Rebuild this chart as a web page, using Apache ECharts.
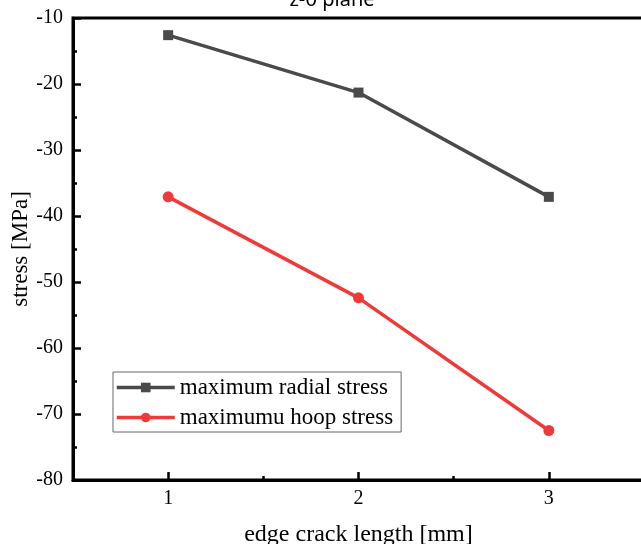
<!DOCTYPE html>
<html>
<head>
<meta charset="utf-8">
<script src="https://cdn.jsdelivr.net/npm/echarts@6/dist/echarts.min.js"></script>
<style>
  html, body { margin: 0; padding: 0; background: #fff; }
  #chart { width: 641px; height: 544px; }
</style>
</head>
<body>
<div id="chart"></div>
<script>
// Crack length (mm) and peak stresses (MPa)
const crackLength = [1, 2, 3];
const radialStress = [-12.6, -21.3, -37.1];
const hoopStress = [-37.1, -52.4, -72.5];
const xMajorTicks = [1, 2, 3];
const xMinorTicks = [1.5, 2.5];

const serif = '"Liberation Serif", "Times New Roman", serif';

const chart = echarts.init(document.getElementById('chart'), null, { renderer: 'canvas' });

chart.setOption({
  backgroundColor: '#fff',
  animation: false,
  title: {
    text: 'z-θ plane',
    left: 327,
    textAlign: 'center',
    top: -15,
    textStyle: { fontFamily: '"Noto Sans", sans-serif', fontSize: 20, fontWeight: 'normal', color: '#000' }
  },
  grid: {
    left: 73, top: 18, right: -3, bottom: 64,
    outerBoundsMode: 'none',
    containLabel: false,
    show: true, borderColor: '#000', borderWidth: 3, backgroundColor: 'transparent'
  },
  legend: {
    orient: 'vertical',
    left: 113, top: 372,
    data: ['maximum radial stress', 'maximumu hoop stress'],
    itemWidth: 58, itemHeight: 12, itemGap: 7,
    padding: [4, 8, 3, 2],
    borderColor: '#666', borderWidth: 1,
    lineStyle: { width: 3.5 },
    textStyle: { fontFamily: serif, fontSize: 23, color: '#000' }
  },
  xAxis: [
    {
      type: 'value', min: 0.5, max: 3.5,
      name: 'edge crack length [mm]', nameLocation: 'middle', nameGap: 43,
      nameMoveOverlap: false,
      nameTextStyle: { fontFamily: serif, fontSize: 24, color: '#000' },
      axisLine: { lineStyle: { color: '#000', width: 3 } },
      axisTick: { inside: true, length: 8, lineStyle: { width: 2.5, color: '#000' }, customValues: xMajorTicks },
      axisLabel: { fontFamily: serif, fontSize: 20, color: '#000', margin: 9, customValues: xMajorTicks },
      splitLine: { show: false }
    },
    {
      type: 'value', min: 0.5, max: 3.5, position: 'bottom',
      axisLine: { show: false },
      axisTick: { inside: true, length: 4, lineStyle: { width: 2.5, color: '#000' }, customValues: xMinorTicks },
      axisLabel: { show: false },
      splitLine: { show: false }
    }
  ],
  yAxis: {
    type: 'value', min: -80, max: -10, interval: 10,
    name: 'stress [MPa]', nameLocation: 'middle', nameGap: 41,
    nameMoveOverlap: false,
    nameTextStyle: { fontFamily: serif, fontSize: 23, color: '#000' },
    axisLine: { show: true, lineStyle: { color: '#000', width: 3 } },
    axisTick: { show: true, inside: true, length: 8, lineStyle: { width: 2.5, color: '#000' } },
    minorTick: { show: true, splitNumber: 2, length: 4, lineStyle: { width: 2.5, color: '#000' } },
    axisLabel: { fontFamily: serif, fontSize: 20, color: '#000', margin: 10 },
    splitLine: { show: false }
  },
  series: [
    {
      name: 'maximum radial stress',
      type: 'line',
      data: crackLength.map((x, i) => [x, radialStress[i]]),
      symbol: 'rect', symbolSize: 10,
      lineStyle: { color: '#4a4a4a', width: 3.5 },
      itemStyle: { color: '#4a4a4a' }
    },
    {
      name: 'maximumu hoop stress',
      type: 'line',
      data: crackLength.map((x, i) => [x, hoopStress[i]]),
      symbol: 'circle', symbolSize: 11,
      lineStyle: { color: '#f03a3a', width: 3.5 },
      itemStyle: { color: '#f03a3a' }
    }
  ]
});
</script>
</body>
</html>
